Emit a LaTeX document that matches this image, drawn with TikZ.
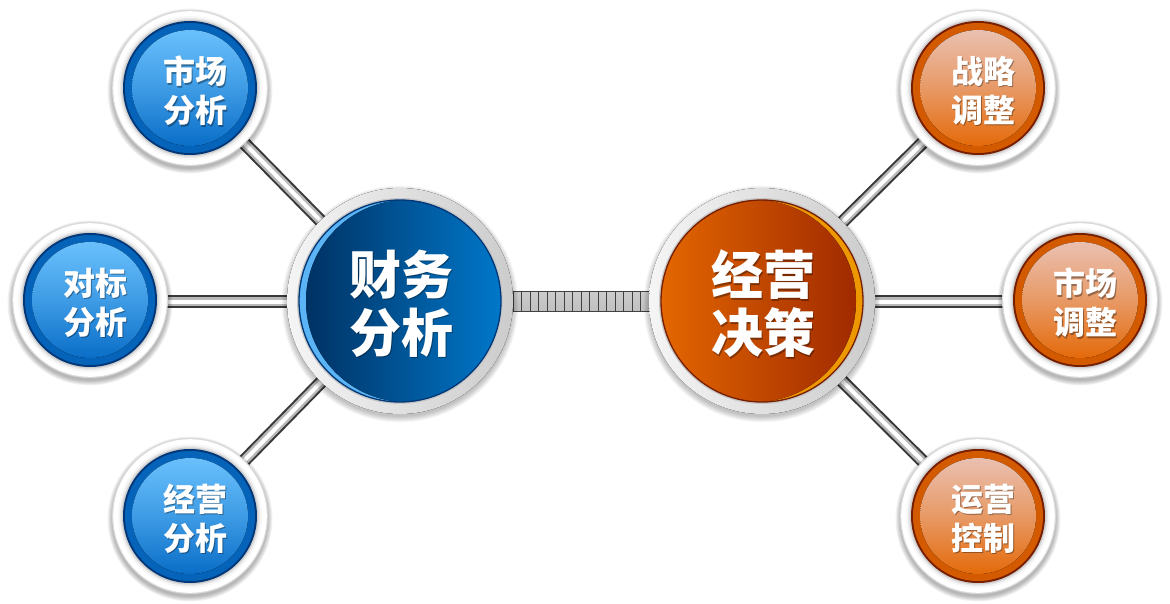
\documentclass[tikz,border=0pt]{standalone}
\usepackage{fontspec}
\newfontfamily\cjk{Noto Sans CJK SC}
\usetikzlibrary{calc}
\definecolor{bEdge}{RGB}{0,55,120}
\definecolor{bAnn}{RGB}{5,100,185}
\definecolor{bMid}{RGB}{10,110,200}
\definecolor{bLight}{RGB}{105,192,252}
\definecolor{oEdge}{RGB}{120,30,0}
\definecolor{oAnn}{RGB}{212,90,0}
\definecolor{oMid}{RGB}{228,106,10}
\definecolor{oLight}{RGB}{234,192,176}
\definecolor{BigBL}{RGB}{0,50,100}
\definecolor{BigBR}{RGB}{0,122,205}
\definecolor{BigBC}{RGB}{90,180,245}
\definecolor{BigOL}{RGB}{230,105,0}
\definecolor{BigOR}{RGB}{160,42,0}
\definecolor{BigOC}{RGB}{238,152,0}
\tikzset{
  smalltext/.style={align=center,text=white,font=\cjk\bfseries\fontsize{32}{39}\selectfont,inner sep=0pt},
  bigtext/.style={align=center,text=white,font=\cjk\bfseries\fontsize{52}{58}\selectfont,inner sep=0pt},
  txtshadow/.style={text=black,opacity=.35,xshift=1.2pt,yshift=-1.2pt},
  link/.style={draw=black!75,line width=0.9pt,top color=gray!40,middle color=white,bottom color=gray!50},
}
\newcommand\rodline[2]{%
  \draw[line width=13pt,gray!45!black] (#1) -- (#2);
  \draw[line width=9pt,gray!55] (#1) -- (#2);
  \draw[line width=4pt,white] (#1) -- (#2);}
\newcommand\smallball[6]{% name, x, y, scheme, line1, line2
  \coordinate (#1) at (#2,#3);
  \foreach \k in {1,...,6}{\fill[black,opacity=0.05] ($(#1)+(0,3)$) circle[radius=77pt+0.9pt*\k];}
  \fill[gray!30] (#1) circle[radius=78pt];
  \fill[white] (#1) circle[radius=76.8pt];
  \fill[gray!6] (#1) circle[radius=72pt];
  \fill[gray!18] (#1) circle[radius=70pt];
  \fill[gray!38] (#1) circle[radius=68.5pt];
  \fill[#4Edge] (#1) circle[radius=67pt];
  \fill[#4Ann] (#1) circle[radius=65pt];
  \fill[top color=#4Light,bottom color=#4Mid,middle color=#4Light!55!#4Mid] (#1) circle[radius=58pt];
  \node[smalltext,txtshadow] at ($(#1)+(5,3)$) {#5\\#6};
  \node[smalltext] (#1-t) at ($(#1)+(5,3)$) {#5\\#6};}
\newcommand\bigball[9]{% name, x, y, leftcol, rightcol, crescentcol, offset, edge, text
  \coordinate (#1) at (#2,#3);
  \foreach \k in {1,...,7}{\fill[black,opacity=0.035] ($(#1)+(0,3)$) circle[radius=112pt+0.9pt*\k];}
  \fill[left color=gray!8,right color=gray!40] (#1) circle[radius=113pt];
  \draw[gray!45,line width=2pt] (#1) circle[radius=102pt];
  \begin{scope}
    \clip (#1) circle[radius=101pt];
    \fill[#6] (#1) circle[radius=101pt];
    \fill[left color=#4,right color=#5] ($(#1)+(#7,0)$) circle[radius=101pt];
  \end{scope}
  \draw[#8,line width=1.3pt] (#1) circle[radius=101pt];
  \node[bigtext,txtshadow] at ($(#1)+(1,3)$) {#9};
  \node[bigtext] (#1-t) at ($(#1)+(1,3)$) {#9};}
\begin{document}
\begin{tikzpicture}[x=1pt,y=-1pt]
\useasboundingbox (0,0) rectangle (1170,604);
\fill[white] (0,0) rectangle (1170,604);
% centres
\coordinate (FAc) at (400,301.5);
\coordinate (JCc) at (762,301.5);
\coordinate (L1c) at (190,88);
\coordinate (L2c) at (90,301.5);
\coordinate (L3c) at (190,516);
\coordinate (R1c) at (978,88);
\coordinate (R2c) at (1080,301.5);
\coordinate (R3c) at (978,516);
% rods
\rodline{L1c}{FAc}
\rodline{L2c}{FAc}
\rodline{L3c}{FAc}
\rodline{R1c}{JCc}
\rodline{R2c}{JCc}
\rodline{R3c}{JCc}
% chain
\foreach \i in {0,...,15}{\draw[link] ($(FAc)+(113+\i*8.5,-10)$) rectangle ++(8.5,20);}
% leaves
\smallball{L1}{190}{88}{b}{市场}{分析}
\smallball{L2}{90}{300}{b}{对标}{分析}
\smallball{L3}{190}{516}{b}{经营}{分析}
\smallball{R1}{978}{88}{o}{战略}{调整}
\smallball{R2}{1080}{300}{o}{市场}{调整}
\smallball{R3}{978}{516}{o}{运营}{控制}
% hubs
\bigball{FA}{400}{301}{BigBL}{BigBR}{BigBC}{7}{bEdge}{财务\\分析}
\bigball{JC}{762}{301}{BigOL}{BigOR}{BigOC}{-7}{oEdge}{经营\\决策}
\end{tikzpicture}
\end{document}
